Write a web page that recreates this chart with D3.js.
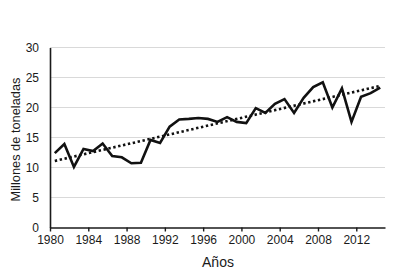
<!DOCTYPE html>
<head>
  <style>
    body { margin: 0; background: #fff; }
    text { font-family: "Liberation Sans", Arial, sans-serif; fill: #1a1a1a; }
  </style>
<title>Millones de toneladas por año</title>
</head>
<body>
  <script src="https://cdn.jsdelivr.net/npm/d3@7/dist/d3.min.js"></script>
  <script>
    // data
    var years = d3.range(1980, 2015);
    var values = [12.4, 13.9, 10.1, 13.1, 12.75, 14.0, 11.9, 11.7, 10.7, 10.8,
                  14.6, 14.1, 16.8, 18.0, 18.1, 18.25, 18.1, 17.6, 18.4, 17.6,
                  17.4, 19.9, 19.1, 20.6, 21.4, 19.1, 21.6, 23.4, 24.2, 20.0,
                  23.2, 17.6, 21.8, 22.4, 23.3];
    var trendYears = [1980, 2014];
    var trendValues = [11.1, 23.6];
    var xTicks = [1980, 1984, 1988, 1992, 1996, 2000, 2004, 2008, 2012];
    var yTicks = [0, 5, 10, 15, 20, 25, 30];

    var margin = {top: 47.5, right: 15, bottom: 48.5, left: 50};
    var width = 400 - margin.left - margin.right;
    var height = 276 - margin.top - margin.bottom;

    var x = d3.scaleLinear().domain([1980, 2015]).range([0, width]);
    var y = d3.scaleLinear().domain([0, 30]).range([height, 0]);

    var svg = d3.select("body").append("svg")
      .attr("width", 400)
      .attr("height", 276)
      .append("g")
      .attr("transform", "translate(" + margin.left + "," + margin.top + ")");

    // grid lines
    svg.append("g")
      .selectAll("line")
      .data(yTicks.slice(1))
      .enter().append("line")
      .attr("x1", 0)
      .attr("x2", width)
      .attr("y1", function(d) { return y(d); })
      .attr("y2", function(d) { return y(d); })
      .attr("stroke", "#d9d9d9")
      .attr("stroke-width", 1.2);

    // Y axis (no tick marks)
    var yAxis = svg.append("g")
      .call(d3.axisLeft(y).tickValues(yTicks).tickSize(0).tickPadding(11));
    yAxis.select(".domain").attr("stroke", "#1a1a1a").attr("stroke-width", 1.6);
    yAxis.selectAll("text").style("font-size", "12px");

    // X axis
    var xAxis = svg.append("g")
      .attr("transform", "translate(0," + height + ")")
      .call(d3.axisBottom(x).tickValues(xTicks).tickFormat(d3.format("d"))
        .tickSizeInner(4).tickSizeOuter(0).tickPadding(4));
    xAxis.select(".domain").attr("stroke", "#1a1a1a").attr("stroke-width", 1.6);
    xAxis.selectAll(".tick line").attr("stroke", "#1a1a1a").attr("stroke-width", 1.4);
    xAxis.selectAll("text").style("font-size", "12px");

    // Excel centres each year inside its slot
    var line = d3.line()
      .x(function(d) { return x(d[0] + 0.5); })
      .y(function(d) { return y(d[1]); });

    svg.append("path")
      .datum(d3.zip(trendYears, trendValues))
      .attr("d", line)
      .attr("fill", "none")
      .attr("stroke", "#111")
      .attr("stroke-width", 2.6)
      .attr("stroke-dasharray", "2.4,2.6");

    svg.append("path")
      .datum(d3.zip(years, values))
      .attr("d", line)
      .attr("fill", "none")
      .attr("stroke", "#111")
      .attr("stroke-width", 2.6)
      .attr("stroke-linejoin", "miter");

    // axis labels
    svg.append("text")
      .attr("x", 168)
      .attr("y", height + 39)
      .style("text-anchor", "middle")
      .style("font-size", "14px")
      .text("Años");

    svg.append("text")
      .attr("transform", "rotate(-90)")
      .attr("x", -height / 2 - 2)
      .attr("y", -30)
      .style("text-anchor", "middle")
      .style("font-size", "12.8px")
      .text("Millones de toneladas");
  </script>
</body>
